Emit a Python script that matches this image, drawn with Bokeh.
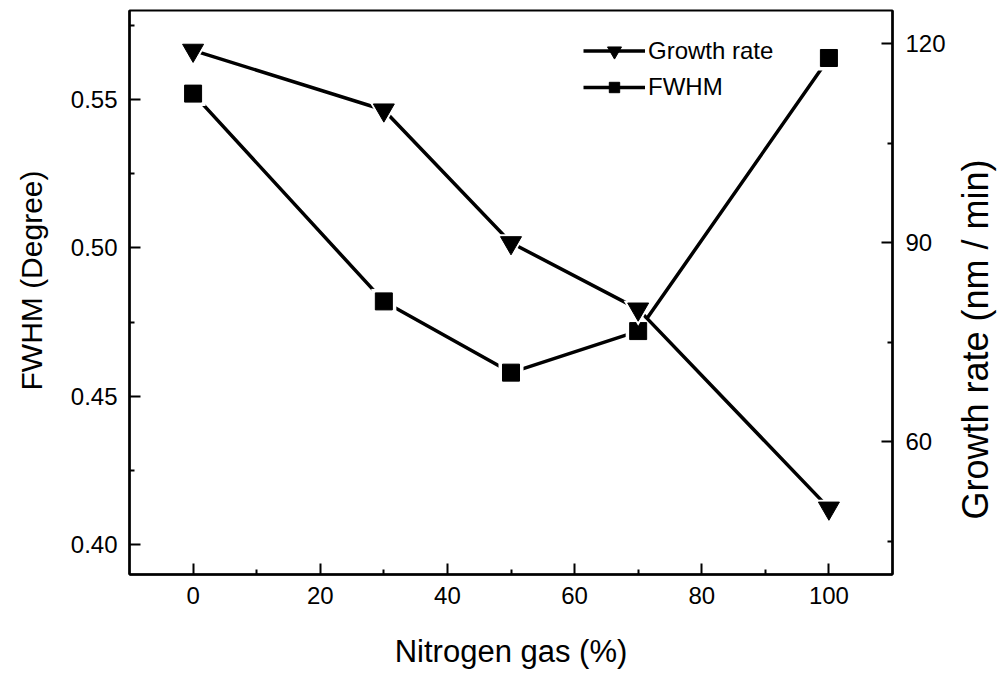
from bokeh.plotting import figure
from bokeh.models import (Range1d, LinearAxis, FixedTicker, Legend, LegendItem,
                          PrintfTickFormatter, Label)
from bokeh.embed import file_html
from bokeh.resources import INLINE

# Nitrogen content of the sputtering gas (%)
nitrogen = [0, 30, 50, 70, 100]
# Full width at half maximum of the diffraction peak (degree)
fwhm = [0.552, 0.482, 0.458, 0.472, 0.564]
# Film growth rate (nm / min)
growth_rate = [119, 110, 90, 80, 50]

x_ticks = [0, 20, 40, 60, 80, 100]
x_minor = [10, 30, 50, 70, 90]
left_ticks = [0.40, 0.45, 0.50, 0.55]
left_minor = [0.425, 0.475, 0.525, 0.575]
right_ticks = [60, 90, 120]
right_minor = [45, 75, 105]

FONT = "Liberation Sans"

p = figure(width=1003, height=677, output_backend="svg", toolbar_location=None,
           x_range=Range1d(-10, 110), y_range=Range1d(0.39, 0.58),
           min_border_left=129, min_border_right=111,
           min_border_top=10, min_border_bottom=103)
p.extra_y_ranges = {"gr": Range1d(40, 125)}
p.grid.visible = False
p.background_fill_color = "white"
p.border_fill_color = "white"
p.outline_line_color = "black"
p.outline_line_width = 2


def style_axis(ax, label_size):
    ax.axis_line_width = 2.5
    ax.axis_line_color = "black"
    ax.major_tick_in = 11
    ax.major_tick_out = 0
    ax.minor_tick_in = 5
    ax.minor_tick_out = 0
    ax.major_tick_line_width = 2
    ax.minor_tick_line_width = 2
    ax.major_tick_line_color = "black"
    ax.minor_tick_line_color = "black"
    ax.major_label_text_font = FONT
    ax.major_label_text_font_size = "24px"
    ax.major_label_text_color = "black"
    ax.axis_label_text_font = FONT
    ax.axis_label_text_font_size = label_size
    ax.axis_label_text_font_style = "normal"
    ax.axis_label_text_color = "black"


xa = p.xaxis[0]
style_axis(xa, "31px")
xa.ticker = FixedTicker(ticks=x_ticks, minor_ticks=x_minor)
xa.axis_label = "Nitrogen gas (%)"
xa.major_label_standoff = 12
xa.axis_label_standoff = 27

ya = p.yaxis[0]
style_axis(ya, "30px")
ya.ticker = FixedTicker(ticks=left_ticks, minor_ticks=left_minor)
ya.formatter = PrintfTickFormatter(format="%.2f")
ya.major_label_standoff = 12

ra = LinearAxis(y_range_name="gr")
style_axis(ra, "35px")
ra.ticker = FixedTicker(ticks=right_ticks, minor_ticks=right_minor)
ra.major_label_standoff = 13
p.add_layout(ra, "right")

# Vertical axis titles, both reading bottom to top, placed in the side panels
p.add_layout(Label(x=-3, y=294, x_units="screen", y_units="screen",
                   text="FWHM (Degree)", angle=90, angle_units="deg",
                   text_align="center", text_baseline="middle",
                   text_font=FONT, text_font_size="30px", text_color="black"),
             "left")
p.add_layout(Label(x=27, y=235, x_units="screen", y_units="screen",
                   text="Growth rate (nm / min)", angle=90, angle_units="deg",
                   text_align="center", text_baseline="middle",
                   text_font=FONT, text_font_size="36px", text_color="black"),
             "right")

# FWHM series: line, white halo to open a gap, then the black square
fw_line = p.line(nitrogen, fwhm, line_color="black", line_width=3.5)
p.scatter(nitrogen, fwhm, marker="square", size=25, fill_color="white",
          line_color=None)
fw_mark = p.scatter(nitrogen, fwhm, marker="square", size=17,
                    fill_color="black", line_color="black")

# Growth rate series on the right axis
gr_line = p.line(nitrogen, growth_rate, y_range_name="gr", line_color="black",
                 line_width=3.5)
p.scatter(nitrogen, growth_rate, y_range_name="gr", marker="inverted_triangle",
          size=29, fill_color="white", line_color=None)
gr_mark = p.scatter(nitrogen, growth_rate, y_range_name="gr",
                    marker="inverted_triangle", size=21, fill_color="black",
                    line_color="black")


def make_legend(label, renderers, glyph_h, loc):
    lg = Legend(items=[LegendItem(label=label, renderers=renderers)],
                location=loc, glyph_width=62, glyph_height=glyph_h,
                label_height=glyph_h, label_standoff=3, padding=0, margin=0,
                spacing=0, border_line_color=None, background_fill_alpha=0,
                label_text_font=FONT, label_text_font_size="24px",
                label_text_color="black")
    p.add_layout(lg)


make_legend("Growth rate", [gr_line, gr_mark], 35, (454, 506))
make_legend("FWHM", [fw_line, fw_mark], 26, (454, 473))

open("out.html", "w").write(file_html(p, INLINE))
